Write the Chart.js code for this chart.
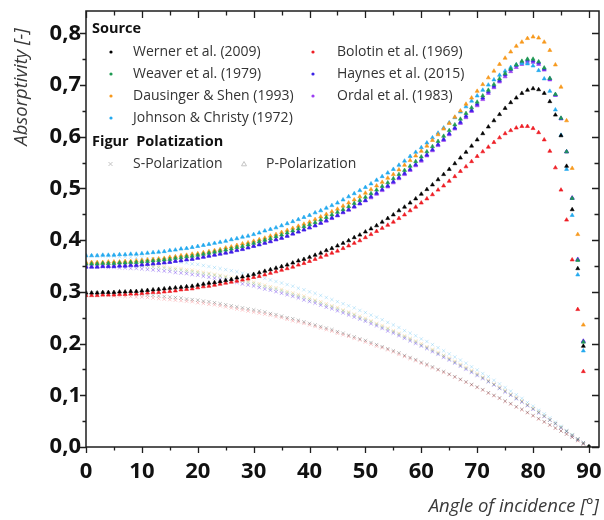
<!DOCTYPE html>
<html>
<head>
<meta charset="utf-8">
<script src="https://cdn.jsdelivr.net/npm/chart.js@4.4.1/dist/chart.umd.min.js"></script>
<style>
  html, body { margin: 0; padding: 0; background: #fff; }
  #wrap { width: 604px; height: 520px; }
</style>
</head>
<body>
<div id="wrap"><canvas id="chart" width="604" height="520"></canvas></div>
<script>
// angle of incidence in degrees
const angles = [0,1,2,3,4,5,6,7,8,9,10,11,12,13,14,15,16,17,18,19,20,21,22,23,24,25,26,27,28,29,
  30,31,32,33,34,35,36,37,38,39,40,41,42,43,44,45,46,47,48,49,50,51,52,53,54,55,56,57,58,59,
  60,61,62,63,64,65,66,67,68,69,70,71,72,73,74,75,76,77,78,79,80,81,82,83,84,85,86,87,88,89,90];

// P-polarization (triangles)
const wernerP = [0.298,0.298,0.298,0.299,0.299,0.299,0.300,0.300,0.301,0.301,
  0.302,0.303,0.304,0.305,0.306,0.307,0.308,0.309,0.310,0.311,
  0.313,0.315,0.317,0.318,0.320,0.322,0.324,0.327,0.329,0.331,
  0.334,0.337,0.340,0.343,0.346,0.349,0.352,0.356,0.360,0.363,
  0.367,0.371,0.375,0.380,0.384,0.389,0.394,0.399,0.405,0.410,
  0.416,0.422,0.428,0.435,0.442,0.449,0.457,0.464,0.472,0.480,
  0.489,0.498,0.507,0.517,0.527,0.537,0.548,0.559,0.570,0.582,
  0.594,0.606,0.619,0.631,0.643,0.655,0.666,0.675,0.684,0.690,
  0.693,0.691,0.684,0.668,0.642,0.602,0.543,0.459,0.345,0.195,0];
const weaverP = [0.354,0.354,0.354,0.355,0.355,0.355,0.356,0.356,0.357,0.357,
  0.358,0.359,0.360,0.361,0.362,0.363,0.365,0.366,0.368,0.369,
  0.371,0.373,0.375,0.377,0.379,0.381,0.383,0.386,0.388,0.391,
  0.394,0.397,0.400,0.403,0.407,0.410,0.414,0.418,0.422,0.426,
  0.430,0.434,0.439,0.444,0.449,0.454,0.459,0.465,0.471,0.477,
  0.483,0.490,0.497,0.504,0.511,0.519,0.527,0.535,0.543,0.552,
  0.561,0.571,0.581,0.591,0.601,0.612,0.623,0.634,0.645,0.656,
  0.667,0.679,0.690,0.701,0.712,0.722,0.731,0.739,0.746,0.750,
  0.750,0.745,0.733,0.713,0.682,0.636,0.571,0.481,0.361,0.203,0];
const dausingerP = [0.357,0.357,0.357,0.357,0.358,0.358,0.358,0.359,0.359,0.360,
  0.361,0.362,0.363,0.364,0.365,0.367,0.368,0.370,0.371,0.373,
  0.374,0.376,0.378,0.380,0.382,0.385,0.387,0.390,0.393,0.395,
  0.398,0.401,0.404,0.408,0.411,0.415,0.419,0.423,0.427,0.431,
  0.435,0.440,0.445,0.450,0.455,0.460,0.466,0.472,0.478,0.484,
  0.491,0.498,0.505,0.512,0.520,0.527,0.536,0.545,0.554,0.563,
  0.572,0.582,0.593,0.604,0.615,0.626,0.638,0.650,0.663,0.675,
  0.688,0.701,0.714,0.727,0.740,0.752,0.764,0.775,0.783,0.790,
  0.793,0.791,0.783,0.767,0.739,0.696,0.631,0.539,0.411,0.236,0];
const johnsonP = [0.370,0.370,0.370,0.371,0.371,0.371,0.372,0.372,0.373,0.373,
  0.374,0.375,0.376,0.377,0.378,0.380,0.381,0.383,0.384,0.386,
  0.388,0.390,0.392,0.394,0.396,0.398,0.401,0.403,0.406,0.408,
  0.411,0.414,0.418,0.421,0.424,0.428,0.432,0.436,0.440,0.444,
  0.448,0.453,0.457,0.462,0.467,0.472,0.478,0.484,0.490,0.496,
  0.502,0.509,0.516,0.523,0.530,0.537,0.545,0.553,0.562,0.570,
  0.579,0.588,0.598,0.607,0.617,0.627,0.637,0.648,0.658,0.669,
  0.679,0.690,0.700,0.710,0.719,0.727,0.734,0.739,0.742,0.741,
  0.737,0.728,0.712,0.688,0.652,0.603,0.537,0.448,0.333,0.186,0];
const bolotinP = [0.293,0.293,0.293,0.294,0.294,0.294,0.295,0.295,0.296,0.296,
  0.297,0.298,0.299,0.299,0.300,0.301,0.302,0.304,0.305,0.306,
  0.308,0.310,0.311,0.313,0.315,0.317,0.319,0.321,0.323,0.325,
  0.328,0.330,0.333,0.336,0.339,0.342,0.345,0.348,0.352,0.355,
  0.359,0.363,0.367,0.371,0.375,0.379,0.384,0.389,0.394,0.399,
  0.405,0.411,0.417,0.423,0.429,0.435,0.442,0.449,0.457,0.464,
  0.472,0.480,0.488,0.497,0.505,0.514,0.523,0.533,0.542,0.552,
  0.562,0.571,0.580,0.589,0.598,0.606,0.612,0.617,0.620,0.620,
  0.616,0.608,0.594,0.572,0.540,0.497,0.439,0.362,0.266,0.146,0];
const haynesP = [0.348,0.348,0.348,0.349,0.349,0.349,0.350,0.350,0.351,0.351,
  0.352,0.353,0.354,0.355,0.356,0.357,0.359,0.360,0.362,0.363,
  0.365,0.367,0.369,0.371,0.373,0.375,0.377,0.380,0.382,0.385,
  0.388,0.391,0.394,0.397,0.401,0.404,0.408,0.412,0.416,0.420,
  0.424,0.428,0.433,0.438,0.443,0.448,0.454,0.459,0.465,0.471,
  0.477,0.484,0.491,0.498,0.505,0.513,0.521,0.529,0.537,0.546,
  0.555,0.565,0.575,0.585,0.595,0.606,0.617,0.628,0.640,0.651,
  0.663,0.675,0.687,0.698,0.709,0.720,0.730,0.738,0.744,0.748,
  0.747,0.743,0.731,0.712,0.681,0.635,0.571,0.481,0.362,0.204,0];
const ordalP = [0.349,0.349,0.349,0.350,0.350,0.350,0.351,0.351,0.352,0.352,
  0.353,0.354,0.355,0.356,0.357,0.358,0.360,0.361,0.363,0.364,
  0.366,0.368,0.370,0.372,0.374,0.376,0.378,0.381,0.383,0.386,
  0.389,0.392,0.395,0.398,0.401,0.404,0.408,0.412,0.416,0.420,
  0.424,0.428,0.433,0.437,0.442,0.447,0.453,0.458,0.464,0.470,
  0.476,0.482,0.489,0.496,0.503,0.511,0.519,0.527,0.535,0.544,
  0.553,0.563,0.573,0.583,0.593,0.604,0.615,0.626,0.637,0.649,
  0.660,0.672,0.684,0.695,0.706,0.716,0.726,0.734,0.740,0.744,
  0.744,0.740,0.729,0.710,0.680,0.635,0.571,0.482,0.363,0.205,0];

// S-polarization (crosses)
const wernerS = [0.298,0.298,0.298,0.298,0.298,0.297,0.297,0.296,0.296,0.295,
  0.295,0.294,0.293,0.292,0.291,0.290,0.289,0.288,0.286,0.285,
  0.284,0.282,0.281,0.279,0.277,0.275,0.273,0.271,0.269,0.267,
  0.265,0.263,0.261,0.258,0.256,0.253,0.250,0.248,0.245,0.242,
  0.239,0.236,0.233,0.230,0.227,0.223,0.220,0.216,0.213,0.209,
  0.206,0.202,0.198,0.194,0.190,0.186,0.182,0.177,0.173,0.169,
  0.164,0.160,0.155,0.150,0.146,0.141,0.136,0.131,0.126,0.121,
  0.116,0.111,0.105,0.100,0.095,0.089,0.084,0.078,0.073,0.067,
  0.061,0.055,0.049,0.043,0.037,0.031,0.025,0.019,0.013,0.006,0];
const weaverS = [0.354,0.354,0.354,0.353,0.353,0.353,0.352,0.352,0.351,0.350,
  0.350,0.349,0.348,0.347,0.346,0.344,0.343,0.342,0.340,0.339,
  0.337,0.335,0.334,0.332,0.330,0.328,0.325,0.323,0.321,0.318,
  0.316,0.313,0.310,0.307,0.305,0.302,0.298,0.295,0.292,0.289,
  0.285,0.282,0.278,0.274,0.271,0.267,0.263,0.259,0.255,0.250,
  0.246,0.242,0.237,0.232,0.228,0.223,0.218,0.213,0.208,0.203,
  0.197,0.192,0.187,0.181,0.176,0.170,0.164,0.158,0.152,0.146,
  0.140,0.134,0.127,0.121,0.114,0.108,0.101,0.094,0.088,0.081,
  0.074,0.067,0.060,0.052,0.045,0.038,0.030,0.023,0.015,0.008,0];
const dausingerS = [0.357,0.357,0.357,0.357,0.356,0.356,0.355,0.355,0.354,0.353,
  0.353,0.352,0.351,0.350,0.349,0.347,0.346,0.345,0.343,0.342,
  0.340,0.338,0.336,0.334,0.332,0.330,0.328,0.326,0.323,0.321,
  0.319,0.316,0.313,0.310,0.308,0.305,0.301,0.298,0.295,0.292,
  0.288,0.284,0.281,0.277,0.273,0.270,0.265,0.261,0.257,0.253,
  0.249,0.244,0.239,0.235,0.230,0.225,0.220,0.215,0.210,0.205,
  0.200,0.194,0.189,0.183,0.177,0.172,0.166,0.160,0.154,0.148,
  0.142,0.135,0.129,0.122,0.116,0.109,0.102,0.096,0.089,0.082,
  0.075,0.068,0.060,0.053,0.046,0.038,0.031,0.023,0.016,0.008,0];
const johnsonS = [0.370,0.370,0.370,0.369,0.369,0.369,0.368,0.368,0.367,0.366,
  0.366,0.365,0.364,0.363,0.361,0.360,0.359,0.357,0.356,0.354,
  0.353,0.351,0.349,0.347,0.345,0.343,0.341,0.339,0.336,0.334,
  0.331,0.329,0.326,0.323,0.320,0.317,0.314,0.311,0.307,0.304,
  0.300,0.297,0.293,0.289,0.285,0.281,0.277,0.273,0.269,0.264,
  0.260,0.255,0.251,0.246,0.241,0.236,0.231,0.225,0.220,0.215,
  0.209,0.204,0.198,0.192,0.186,0.180,0.174,0.168,0.162,0.155,
  0.149,0.142,0.136,0.129,0.122,0.115,0.108,0.101,0.094,0.086,
  0.079,0.071,0.064,0.056,0.048,0.040,0.032,0.024,0.016,0.008,0];
const bolotinS = [0.293,0.293,0.293,0.293,0.293,0.292,0.292,0.291,0.291,0.290,
  0.290,0.289,0.288,0.287,0.286,0.285,0.284,0.283,0.282,0.281,
  0.279,0.278,0.276,0.275,0.273,0.271,0.269,0.267,0.265,0.263,
  0.261,0.259,0.257,0.255,0.252,0.250,0.247,0.244,0.242,0.239,
  0.236,0.233,0.230,0.227,0.224,0.220,0.217,0.214,0.210,0.207,
  0.203,0.199,0.195,0.192,0.188,0.184,0.179,0.175,0.171,0.167,
  0.162,0.158,0.153,0.149,0.144,0.140,0.135,0.130,0.125,0.120,
  0.115,0.110,0.104,0.099,0.094,0.088,0.083,0.077,0.072,0.066,
  0.060,0.054,0.048,0.042,0.036,0.031,0.025,0.019,0.012,0.006,0];
const haynesS = [0.348,0.348,0.348,0.348,0.347,0.347,0.346,0.346,0.345,0.345,
  0.344,0.343,0.342,0.341,0.340,0.339,0.337,0.336,0.335,0.333,
  0.332,0.330,0.328,0.326,0.324,0.322,0.320,0.318,0.315,0.313,
  0.311,0.308,0.305,0.303,0.300,0.297,0.294,0.291,0.288,0.284,
  0.281,0.278,0.274,0.270,0.267,0.263,0.259,0.255,0.251,0.247,
  0.243,0.238,0.234,0.229,0.224,0.220,0.215,0.210,0.205,0.200,
  0.195,0.190,0.184,0.179,0.173,0.168,0.162,0.156,0.150,0.144,
  0.138,0.132,0.126,0.120,0.113,0.106,0.100,0.093,0.087,0.080,
  0.073,0.066,0.059,0.052,0.045,0.037,0.030,0.022,0.015,0.008,0];
const ordalS = [0.349,0.349,0.349,0.349,0.348,0.348,0.347,0.347,0.346,0.346,
  0.345,0.344,0.343,0.342,0.341,0.340,0.338,0.337,0.336,0.334,
  0.333,0.331,0.329,0.327,0.325,0.323,0.321,0.319,0.316,0.314,
  0.312,0.309,0.306,0.304,0.301,0.298,0.295,0.292,0.289,0.285,
  0.282,0.279,0.275,0.271,0.268,0.264,0.260,0.256,0.252,0.248,
  0.244,0.239,0.235,0.230,0.225,0.221,0.216,0.211,0.206,0.201,
  0.196,0.191,0.185,0.180,0.174,0.169,0.163,0.157,0.151,0.145,
  0.139,0.133,0.127,0.120,0.114,0.107,0.100,0.094,0.087,0.080,
  0.073,0.066,0.059,0.052,0.045,0.037,0.030,0.022,0.015,0.008,0];

const sources = [
  { name: 'Werner et al. (2009)', color: '#000000', p: wernerP, s: wernerS },
  { name: 'Weaver et al. (1979)', color: '#1e9a52', p: weaverP, s: weaverS },
  { name: 'Dausinger & Shen (1993)', color: '#f7991c', p: dausingerP, s: dausingerS },
  { name: 'Johnson & Christy (1972)', color: '#23a9ef', p: johnsonP, s: johnsonS },
  { name: 'Bolotin et al. (1969)', color: '#ee1d24', p: bolotinP, s: bolotinS },
  { name: 'Haynes et al. (2015)', color: '#3a22e6', p: haynesP, s: haynesS },
  { name: 'Ordal et al. (1983)', color: '#9b3df2', p: ordalP, s: ordalS }
];

function fade(hex, a) {
  const n = parseInt(hex.slice(1), 16);
  return 'rgba(' + (n >> 16) + ',' + ((n >> 8) & 255) + ',' + (n & 255) + ',' + a + ')';
}

const datasets = [];
sources.forEach(src => {
  datasets.push({
    label: src.name + ' P',
    data: angles.map((a, i) => ({ x: a, y: src.p[i] })),
    pointStyle: 'triangle',
    pointRadius: 2.3,
    borderWidth: 0.6,
    backgroundColor: src.color,
    borderColor: src.color,
    order: 1
  });
  datasets.push({
    label: src.name + ' S',
    data: angles.map((a, i) => ({ x: a, y: src.s[i] })),
    pointStyle: 'crossRot',
    pointRadius: 2.4,
    borderWidth: 1,
    backgroundColor: fade(src.color, 0.24),
    borderColor: fade(src.color, 0.24),
    order: 2
  });
});

const FONT = "'Open Sans', 'Noto Sans', sans-serif";

const frame = {
  id: 'frame',
  afterDraw(chart) {
    const { ctx, chartArea: a, scales: { x, y } } = chart;
    ctx.save();
    ctx.strokeStyle = '#1e1e1e';
    ctx.lineWidth = 1.5;
    ctx.strokeRect(a.left, a.top, a.right - a.left, a.bottom - a.top);

    // ticks: outward on left/bottom, inward on top/right
    ctx.lineWidth = 1.3;
    ctx.beginPath();
    for (let v = 0; v <= 90; v += 5) {
      const px = Math.round(x.getPixelForValue(v)) + 0.5;
      const len = v % 10 === 0 ? 6 : 3.5;
      ctx.moveTo(px, a.bottom); ctx.lineTo(px, a.bottom + len);
      ctx.moveTo(px, a.top); ctx.lineTo(px, a.top + len + 1);
    }
    for (let i = 0; i <= 16; i++) {
      const py = Math.round(y.getPixelForValue(i * 0.05)) + 0.5;
      const len = i % 2 === 0 ? 6 : 3.5;
      ctx.moveTo(a.left, py); ctx.lineTo(a.left - len, py);
      ctx.moveTo(a.right, py); ctx.lineTo(a.right - len - 1, py);
    }
    ctx.stroke();

    // y axis title
    ctx.save();
    ctx.translate(22, 87);
    ctx.rotate(-Math.PI / 2);
    ctx.fillStyle = '#3a3a3a';
    ctx.font = 'italic 18.5px ' + FONT;
    ctx.textAlign = 'center';
    ctx.textBaseline = 'middle';
    ctx.fillText('Absorptivity [-]', 0, 0);
    ctx.restore();

    // legend
    ctx.textBaseline = 'middle';
    ctx.textAlign = 'left';
    ctx.fillStyle = '#111';
    ctx.font = 'bold 14.5px ' + FONT;
    ctx.fillText('Source', 92, 29);
    ctx.fillText('Figur  Polatization', 92, 142);

    ctx.font = '14px ' + FONT;
    const rows = [52, 74, 96, 118];
    sources.forEach((src, i) => {
      const col = i < 4 ? 0 : 1;
      const row = i < 4 ? i : i - 4;
      const mx = col === 0 ? 111 : 313;
      const tx = col === 0 ? 133 : 337;
      ctx.fillStyle = src.color;
      ctx.beginPath();
      ctx.arc(mx, rows[row], 1.6, 0, Math.PI * 2);
      ctx.fill();
      ctx.fillStyle = '#333';
      ctx.fillText(src.name, tx, rows[row]);
    });

    const py = 164;
    ctx.strokeStyle = '#c4c4c4';
    ctx.lineWidth = 1;
    ctx.beginPath();
    ctx.moveTo(108.5, py - 2); ctx.lineTo(112.5, py + 2);
    ctx.moveTo(112.5, py - 2); ctx.lineTo(108.5, py + 2);
    ctx.stroke();
    ctx.beginPath();
    ctx.moveTo(244, py - 2.5); ctx.lineTo(246.5, py + 1.8); ctx.lineTo(241.5, py + 1.8);
    ctx.closePath();
    ctx.stroke();
    ctx.fillStyle = '#333';
    ctx.fillText('S-Polarization', 133, py);
    ctx.fillText('P-Polarization', 266, py);
    ctx.restore();
  }
};

const ctx = document.getElementById('chart').getContext('2d');

const chart = new Chart(ctx, {
  type: 'scatter',
  data: { datasets: datasets },
  options: {
    responsive: false,
    animation: false,
    layout: { padding: { top: 11, right: 5, left: 0, bottom: 0 } },
    plugins: {
      legend: { display: false },
      tooltip: { enabled: false }
    },
    scales: {
      x: {
        type: 'linear',
        min: 0,
        max: 91.8,
        grid: { display: false, drawTicks: false },
        border: { display: false },
        ticks: {
          stepSize: 10,
          includeBounds: false,
          autoSkip: false,
          maxRotation: 0,
          padding: 12,
          color: '#111',
          font: { family: FONT, weight: 'bold', size: 22 }
        },
        title: {
          display: true,
          text: 'Angle of incidence [°]',
          align: 'end',
          color: '#3a3a3a',
          font: { family: FONT, style: 'italic', size: 18.5 },
          padding: { top: 0, bottom: 2 }
        },
        afterFit: (scale) => {
          scale.height = 73;
          scale.paddingLeft = 0;
          scale.paddingRight = 0;
        }
      },
      y: {
        min: 0,
        max: 0.843,
        grid: { display: false, drawTicks: false },
        border: { display: false },
        ticks: {
          stepSize: 0.1,
          includeBounds: false,
          padding: 5,
          color: '#111',
          font: { family: FONT, weight: 'bold', size: 22 },
          callback: (v) => v.toFixed(1).replace('.', ',')
        },
        afterFit: (scale) => {
          scale.width = 86;
          scale.paddingTop = 0;
          scale.paddingBottom = 0;
        }
      }
    }
  },
  plugins: [frame]
});
</script>
</body>
</html>
